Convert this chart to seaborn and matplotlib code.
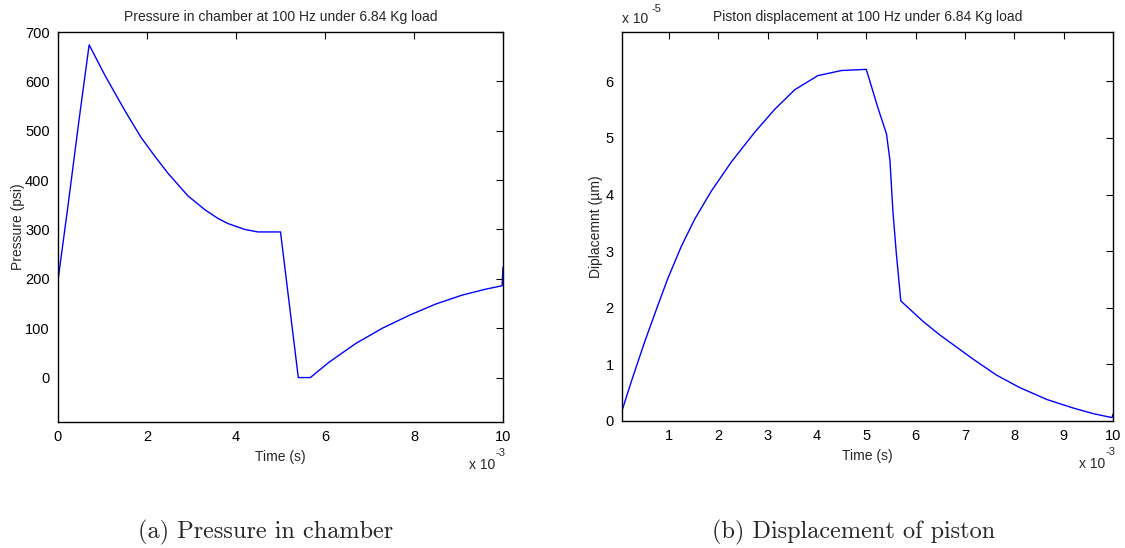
import numpy as np
import pandas as pd
import matplotlib
matplotlib.use("Agg")
import matplotlib.pyplot as plt
import seaborn as sns
from matplotlib.ticker import FuncFormatter, FixedLocator

# ---- data (time in ms, pressure in psi, displacement in units of 1e-5) ----
p_time = [0.0, 0.22, 0.47, 0.70, 1.05, 1.35, 1.54, 1.87, 2.17, 2.47, 2.92, 3.30,
          3.60, 3.82, 4.20, 4.49, 5.0, 5.40, 5.67, 6.09, 6.69, 7.29, 7.89, 8.49,
          9.08, 9.61, 9.98, 10.0]
p_psi = [197, 345, 520, 674, 613, 565, 535, 486, 449, 414, 368, 340,
         322, 312, 300, 295, 295, 0, 0, 31, 69, 100, 126, 149,
         167, 179, 186, 224]

d_time = [0.05, 0.24, 0.51, 0.78, 0.98, 1.25, 1.52, 1.86, 2.27, 2.74, 3.14, 3.55,
          4.02, 4.50, 5.0, 5.24, 5.41, 5.48, 5.54, 5.61, 5.70, 6.15, 6.49, 7.17,
          7.64, 8.11, 8.66, 9.19, 9.6, 9.98, 10.0]
d_val = [0.18, 0.70, 1.40, 2.05, 2.52, 3.08, 3.56, 4.06, 4.58, 5.10, 5.50, 5.85,
         6.10, 6.19, 6.21, 5.52, 5.07, 4.60, 3.70, 2.95, 2.12, 1.76, 1.52, 1.09,
         0.81, 0.59, 0.38, 0.23, 0.13, 0.06, 0.12]

p_yticks = [0, 100, 200, 300, 400, 500, 600, 700]
d_yticks = [0, 1, 2, 3, 4, 5, 6]
p_xticks = [0, 2, 4, 6, 8, 10]
d_xticks = [1, 2, 3, 4, 5, 6, 7, 8, 9, 10]

titles = ["Pressure in chamber at 100 Hz under 6.84 Kg load",
          "Piston displacement at 100 Hz under 6.84 Kg load"]
ylabels = ["Pressure (psi)", "Diplacemnt (\u00b5m)"]
captions = ["(a) Pressure in chamber", "(b) Displacement of piston"]

sns.set_style("white")
plt.rcParams["font.family"] = ["Liberation Sans", "DejaVu Sans"]

W, H = 1125, 548
fig = plt.figure(figsize=(W / 100, H / 100), dpi=100)
ax1 = fig.add_axes([58 / W, 1 - 422 / H, (503 - 58) / W, (422 - 32) / H])
ax2 = fig.add_axes([622 / W, 1 - 421 / H, (1113 - 622) / W, (421 - 32) / H])

dfp = pd.DataFrame({"t": np.array(p_time) * 1e-3, "p": p_psi})
dfd = pd.DataFrame({"t": np.array(d_time) * 1e-3, "d": np.array(d_val) * 1e-5})

sns.lineplot(data=dfp, x="t", y="p", ax=ax1, color="#0000ff", linewidth=1.0,
             sort=False, estimator=None)
sns.lineplot(data=dfd, x="t", y="d", ax=ax2, color="#0000ff", linewidth=1.0,
             sort=False, estimator=None)

ax1.set_xlim(0, 0.010)
ax1.set_ylim(-90, 700)
ax1.xaxis.set_major_locator(FixedLocator([v * 1e-3 for v in p_xticks]))
ax1.yaxis.set_major_locator(FixedLocator(p_yticks))
ax1.xaxis.set_major_formatter(FuncFormatter(lambda v, _: f"{v*1e3:g}"))

ax2.set_xlim(0.05e-3, 0.010)
ax2.set_ylim(0, 6.87e-5)
ax2.xaxis.set_major_locator(FixedLocator([v * 1e-3 for v in d_xticks]))
ax2.yaxis.set_major_locator(FixedLocator([v * 1e-5 for v in d_yticks]))
ax2.xaxis.set_major_formatter(FuncFormatter(lambda v, _: f"{round(v*1e3):g}"))
ax2.yaxis.set_major_formatter(FuncFormatter(lambda v, _: f"{round(v*1e5):g}"))

for ax, title, ylab, lp in zip([ax1, ax2], titles, ylabels, [0, 2]):
    ax.set_title(title, fontsize=10, pad=8)
    ax.set_xlabel("Time (s)", fontsize=10, labelpad=4)
    ax.set_ylabel(ylab, fontsize=10, labelpad=lp)
    ax.tick_params(direction="in", length=5, width=0.8, top=True, right=True,
                   labelsize=10.5, colors="black", pad=6)
    for s in ax.spines.values():
        s.set_visible(True)
        s.set_color("black")
        s.set_linewidth(1.0)
    # MATLAB-style exponent label below the x axis
    ax.annotate("x 10", xy=(1, 0), xycoords="axes fraction", xytext=(-8, -43),
                textcoords="offset pixels", ha="right", va="center", fontsize=10)
    ax.annotate("-3", xy=(1, 0), xycoords="axes fraction", xytext=(-8, -31),
                textcoords="offset pixels", ha="left", va="center", fontsize=8)

ax2.annotate("x 10", xy=(0, 1), xycoords="axes fraction", xytext=(0, 13),
             textcoords="offset pixels", ha="left", va="center", fontsize=10)
ax2.annotate("-5", xy=(0, 1), xycoords="axes fraction", xytext=(30, 23),
             textcoords="offset pixels", ha="left", va="center", fontsize=8)

fig.text(266 / W, 1 - 532 / H, captions[0], ha="center", va="center",
         fontsize=17.5, family="cmr10")
fig.text(854 / W, 1 - 532 / H, captions[1], ha="center", va="center",
         fontsize=17.5, family="cmr10")

fig.savefig("out.png", dpi=100)
